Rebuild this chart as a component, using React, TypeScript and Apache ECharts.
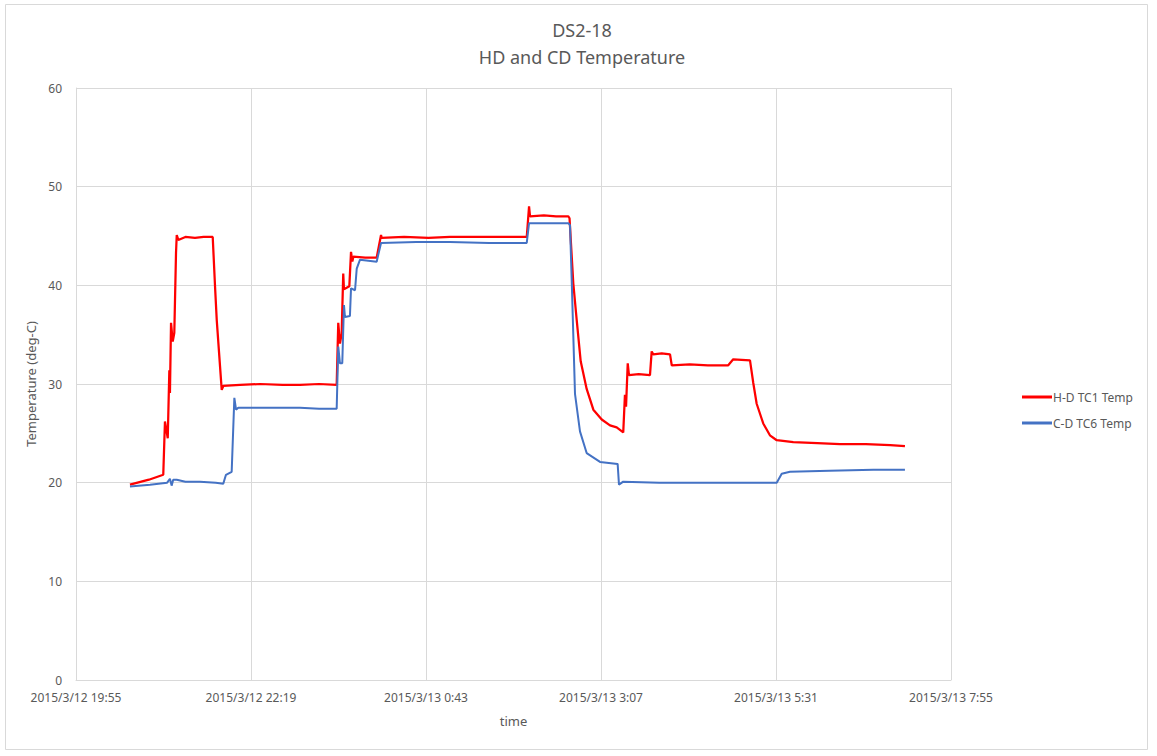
import React, { useEffect, useRef } from "react";
import * as echarts from "echarts";

// minutes since 2015/3/12 19:55
const hdTimes = [
  44.4, 60, 71.8, 73.2, 75.5, 76.8, 77.3, 78.2, 79.6, 80.9, 82.3, 82.9, 84.2, 90, 97.9, 105, 112.5,
  114.4, 115.8, 119.9, 121.2, 135, 151.4, 170, 184.3, 200, 214.5,
  215.8, 217.2, 218.6, 219.9, 220.5, 224.9, 226.3, 227.4, 228.2, 238, 247.4,
  251.0, 251.5, 270, 290, 307.7, 330, 350, 370.9,
  372.8, 373.6, 385, 395, 405.1, 406.1, 409.2, 412.0, 415.3, 420.2, 425.7, 432.6, 439.4, 444.9, 450.3,
  451.7, 452.6, 454.0, 455.0, 463, 472.3, 473.7, 475.0, 482, 488.8, 490.2, 505, 520, 536.7, 540.8, 554.6,
  557.3, 560.1, 565.5, 571.0, 576.6, 590.2, 610, 628.7, 650, 670, 682.1,
];
const hdTemps = [
  19.8, 20.3, 20.8, 26.2, 24.5, 31.4, 29.1, 36.2, 34.3, 35.2, 43.3, 45.1, 44.6, 44.9, 44.8, 44.9, 44.9,
  39.9, 36.5, 29.4, 29.8, 29.9, 30.0, 29.9, 29.9, 30.0, 29.9,
  36.2, 34.1, 35.1, 41.2, 39.6, 39.9, 43.4, 42.4, 42.9, 42.8, 42.8,
  45.1, 44.8, 44.9, 44.8, 44.9, 44.9, 44.9, 44.9,
  48.0, 47.0, 47.1, 47.0, 47.0, 46.8, 40.2, 36.5, 32.3, 29.5, 27.4, 26.4, 25.8, 25.6, 25.1,
  28.9, 27.7, 32.1, 30.9, 31.0, 30.9, 33.3, 33.0, 33.1, 33.0, 31.9, 32.0, 31.9, 31.9, 32.5, 32.4,
  30.1, 28.0, 26.0, 24.8, 24.3, 24.1, 24.0, 23.9, 23.9, 23.8, 23.7,
];

const cdTimes = [
  44.4, 60.9, 75, 77.3, 78.7, 80, 82.9, 90, 102.0, 115, 121.2, 123.4, 128.1,
  130.3, 131.7, 133.5, 160, 184.3, 200, 214.5,
  215.8, 217.2, 219.1, 220.5, 221.3, 225.4, 226.3, 229.6, 231.0, 233.7, 247.4,
  251.0, 280, 307.7, 340, 370.9, 372.8, 390, 405.1,
  406.5, 407.9, 410.6, 414.7, 420.2, 431.2, 445.7,
  446.8, 450.3, 480, 513.5, 545, 576.6, 580.7, 587.5, 620, 656.1, 682.1,
];
const cdTemps = [
  19.6, 19.8, 20.0, 20.4, 19.7, 20.3, 20.3, 20.1, 20.1, 20.0, 19.9, 20.8, 21.1,
  28.6, 27.4, 27.6, 27.6, 27.6, 27.5, 27.5,
  33.8, 32.1, 32.1, 38.0, 36.8, 36.9, 39.7, 39.5, 41.7, 42.6, 42.4,
  44.3, 44.4, 44.4, 44.3, 44.3, 46.3, 46.3, 46.3,
  46.1, 40.5, 29.0, 25.2, 23.0, 22.1, 21.9,
  19.8, 20.1, 20.0, 20.0, 20.0, 20.0, 20.9, 21.1, 21.2, 21.3, 21.3,
];

const seriesNames = ["H-D TC1 Temp", "C-D TC6 Temp"];
const startDate = new Date(2015, 2, 12, 19, 55);

function fmtTime(min: number): string {
  const d = new Date(startDate.getTime() + Math.round(min) * 60000);
  const mm = d.getMinutes().toString().padStart(2, "0");
  return `${d.getFullYear()}/${d.getMonth() + 1}/${d.getDate()} ${d.getHours()}:${mm}`;
}

const TXT = "#595959";
const GRID = "#d9d9d9";
const FONT = "'Noto Sans', sans-serif";

export default function App() {
  const ref = useRef<HTMLDivElement>(null);
  useEffect(() => {
    if (!ref.current) return;
    const chart = echarts.init(ref.current, undefined, { renderer: "svg" });
    chart.setOption({
      animation: false,
      backgroundColor: "#ffffff",
      textStyle: { fontFamily: FONT },
      title: {
        text: "DS2-18\nHD and CD Temperature",
        left: 577,
        textAlign: "center",
        top: 11,
        textStyle: { color: TXT, fontSize: 18, fontWeight: "normal", lineHeight: 27, fontFamily: FONT },
      },
      graphic: [
        {
          type: "rect",
          shape: { x: 5.5, y: 4.5, width: 1142, height: 745 },
          style: { fill: "none", stroke: GRID, lineWidth: 1 },
          silent: true,
        },
      ],
      legend: {
        orient: "vertical",
        left: 1017,
        top: 386,
        itemWidth: 30,
        itemHeight: 3,
        itemGap: 14,
        icon: "rect",
        textStyle: { color: TXT, fontSize: 12, fontFamily: FONT, padding: [0, 0, 0, -4] },
        data: seriesNames,
      },
      grid: { left: 76, top: 88, right: 206, bottom: 76 },
      xAxis: {
        type: "value",
        min: 0,
        max: 720,
        interval: 144,
        name: "time",
        nameLocation: "middle",
        nameGap: 34,
        nameTextStyle: { color: TXT, fontSize: 13, fontFamily: FONT },
        axisLine: { show: true, lineStyle: { color: GRID } },
        axisTick: { show: false },
        splitLine: { show: true, lineStyle: { color: GRID } },
        axisLabel: {
          color: TXT,
          fontSize: 12,
          margin: 11,
          showMinLabel: true,
          showMaxLabel: true,
          formatter: (v: number) => fmtTime(v),
        },
      },
      yAxis: {
        type: "value",
        min: 0,
        max: 60,
        interval: 10,
        name: "Temperature (deg-C)",
        nameLocation: "middle",
        nameGap: 38,
        nameTextStyle: { color: TXT, fontSize: 13, fontFamily: FONT },
        axisLine: { show: true, lineStyle: { color: GRID } },
        axisTick: { show: false },
        splitLine: { show: true, lineStyle: { color: GRID } },
        axisLabel: { color: TXT, fontSize: 12, margin: 14 },
      },
      series: [
        {
          name: seriesNames[0],
          type: "line",
          showSymbol: false,
          symbol: "none",
          color: "#FF0000",
          lineStyle: { width: 2.25, color: "#FF0000" },
          data: hdTimes.map((t, i) => [t, hdTemps[i]]),
        },
        {
          name: seriesNames[1],
          type: "line",
          showSymbol: false,
          symbol: "none",
          color: "#4472C4",
          lineStyle: { width: 2, color: "#4472C4" },
          data: cdTimes.map((t, i) => [t, cdTemps[i]]),
        },
      ],
    });
    return () => chart.dispose();
  }, []);
  return (
    <div
      ref={ref}
      style={{ position: "fixed", left: 0, top: 0, width: 1157, height: 756, background: "#fff" }}
    />
  );
}
